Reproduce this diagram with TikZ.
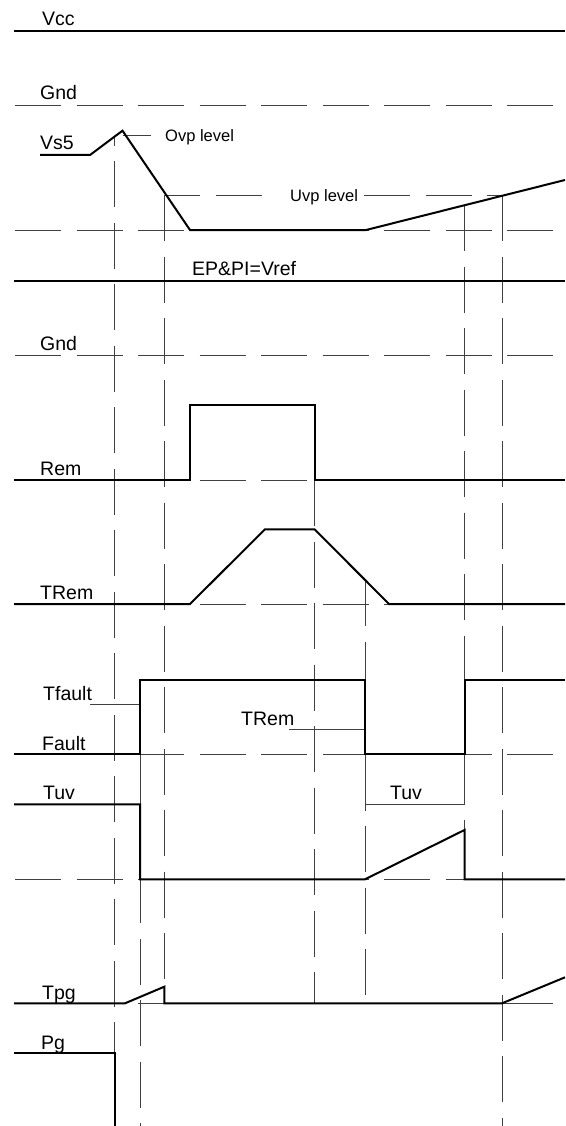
\documentclass[tikz,border=0pt]{standalone}
\usepackage{fontspec}
\setmainfont{Liberation Sans}
\usetikzlibrary{positioning}

\begin{document}
\begin{tikzpicture}[x=1pt,y=-1pt,
  sig/.style={line width=2pt,line join=miter},
  fine/.style={line width=0.8pt,black!75},
  lvl/.style={fine,dash pattern=on 46pt off 15.5pt},
  lbl/.style={anchor=base west,inner sep=0pt,font=\fontsize{19.5}{22}\selectfont},
  note/.style={anchor=base west,inner sep=0pt,font=\fontsize{16.5}{19}\selectfont}
]
  \useasboundingbox (0,0) rectangle (565,1126);

  % reference levels
  \foreach \y in {105.7,230,355,480,604,754.3,879.3}
    \draw[lvl] (15,\y) -- (553,\y);
  \draw[lvl,dash phase=11] (165,195) -- (277,195);
  \draw[lvl] (364,195) -- (503,195);
  \draw[fine] (138,1003.3) -- (553,1003.3);

  % time markers
  \draw[lvl,dash phase=35.8] (114.6,135.7) -- (114.6,1126);
  \draw[lvl] (140,754.3) -- (140,1126);
  \draw[lvl] (164.3,195) -- (164.3,986.7);
  \draw[lvl] (314.6,480) -- (314.6,1003.3);
  \draw[lvl] (365,580) -- (365,995);
  \draw[lvl] (464.5,205) -- (464.5,879.3);
  \draw[lvl] (502,195) -- (502,1126);
  \draw[fine] (365,580) -- (365,610);
  \draw[fine] (365,754.3) -- (365,804.3) -- (464.5,804.3) -- (464.5,754.3);
  \draw[fine] (140,754.3) -- (140,804.3);

  % leaders
  \draw[fine] (122.5,135.7) -- (150.6,135.7);
  \draw[fine] (90,704.3) -- (140,704.3);
  \draw[fine] (289,729.3) -- (365,729.3);

  % supplies
  \draw[sig] (14,30.7) -- (565,30.7);
  \draw[sig] (14,280.5) -- (565,280.5);

  % signals
  \draw[sig] (40,155) -- (90,155) -- (122.5,130.7) -- (190,230) -- (366,230) -- (565,180);
  \draw[sig] (14,480) -- (190,480) -- (190,405) -- (314.6,405) -- (314.6,480) -- (565,480);
  \draw[sig] (14,604) -- (190,604) -- (265,529.3) -- (314.6,529.3) -- (389,604) -- (565,604);
  \draw[sig] (14,754.3) -- (140,754.3) -- (140,680) -- (365,680) -- (365,754.3)
    -- (464.5,754.3) -- (464.5,680) -- (565,680);
  \draw[sig] (14,804.3) -- (140,804.3) -- (140,879.3) -- (365,879.3) -- (464.5,830)
    -- (464.5,879.3) -- (565,879.3);
  \draw[sig] (14,1003.3) -- (125,1003.3) -- (164.3,986.7) -- (164.3,1003.3)
    -- (502,1003.3) -- (565,977.3);
  \draw[sig] (14,1053.3) -- (114.6,1053.3) -- (114.6,1126);

  % labels
  \node[lbl] (vcc) at (42,25.5) {Vcc};
  \node[lbl] (gnd1) at (40,100) {Gnd};
  \node[lbl] (vs5) at (40,150) {Vs5};
  \node[note] (ovp) at (165,141.7) {Ovp level};
  \node[note] (uvp) at (290,201.7) {Uvp level};
  \node[lbl] (vref) at (192,275.7) {EP\&PI=Vref};
  \node[lbl] (gnd2) at (40,350.7) {Gnd};
  \node[lbl] (rem) at (40,475.7) {Rem};
  \node[lbl] (trem) at (40,599) {TRem};
  \node[lbl] (tfault) at (43,700) {Tfault};
  \node[lbl] (fault) at (42,750) {Fault};
  \node[lbl] (trem2) at (241,725) {TRem};
  \node[lbl] (tuv) at (43,799) {Tuv};
  \node[lbl] (tuv2) at (390,799) {Tuv};
  \node[lbl] (tpg) at (42,999) {Tpg};
  \node[lbl] (pg) at (41,1049) {Pg};
\end{tikzpicture}
\end{document}
